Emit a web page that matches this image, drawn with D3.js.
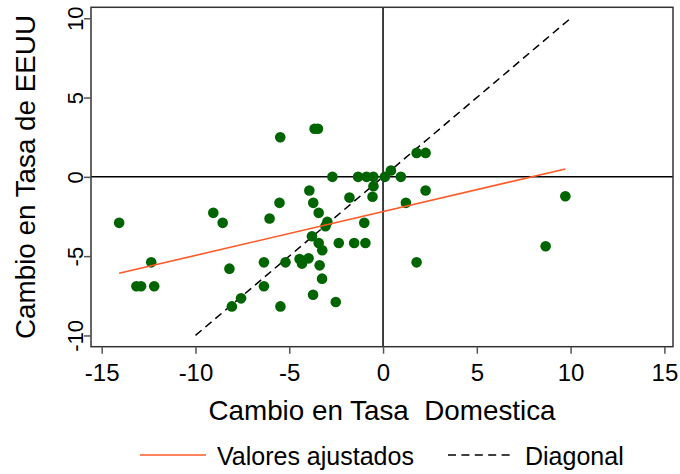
<!DOCTYPE html>
<html>
<head>
<meta charset="utf-8">
<script src="https://cdn.jsdelivr.net/npm/d3@7"></script>
<style>
  body { margin: 0; background: #fff; }
  #chartContainer { width: 680px; height: 474px; }
</style>
</head>
<body>
<div id="chartContainer"></div>
<script>
// Data
const domesticChange = [
  -14.07, -9.05, -8.55, -6.05, -5.52, -5.48, -12.36, -13.15, -12.9, -12.2,
  -8.19, -6.35, -5.2, -6.35, -7.57, -8.06, -5.47, -3.65, -3.47, -2.7,
  -1.33, -0.88, -0.52, 0.1, 0.42, 0.95, 1.79, 2.27, -0.51, -3.93,
  2.27, -1.79, -0.56, -3.72, 1.22, -3.43, -2.97, -3.07, -1.0, -3.79,
  -3.43, -2.36, -1.54, -0.94, -3.24, -4.45, -3.97, -4.32, -3.38, -3.25,
  -3.73, -2.52, 9.72, 8.67, 1.79
];
const usChange = [
  -2.9, -2.27, -2.9, -2.63, -1.64, 2.5, -5.39, -6.9, -6.9, -6.9,
  -5.79, -5.39, -5.39, -6.9, -7.66, -8.17, -8.17, 3.03, 3.03, 0,
  0, 0, 0, 0, 0.4, 0, 1.51, 1.51, -0.59, -0.86,
  -0.86, -1.31, -1.26, -1.64, -1.64, -2.27, -2.84, -3.12, -2.9, -3.75,
  -4.17, -4.17, -4.17, -4.17, -4.63, -5.18, -5.14, -5.47, -5.58, -6.42,
  -7.43, -7.89, -1.22, -4.38, -5.39
];

// Fitted values (end points) and the 45 degree diagonal
const fitX = [-14.07, 9.72];
const fitY = [-6.08, 0.5];
const diagX = [-10, 10];
const diagY = [-10, 10];

const xTicks = [-15, -10, -5, 0, 5, 10, 15];
const yTicks = [-10, -5, 0, 5, 10];

const legendLabels = ["Valores ajustados", "Diagonal"];

const width = 680;
const height = 474;
const marginTop = 7.3;
const marginRight = 7;
const marginBottom = 127.3;
const marginLeft = 91;

const font = "'Liberation Sans', Arial, sans-serif";
const green = "#006400";
const orange = "#ff5a26";

const points = domesticChange.map((d, i) => ({x: d, y: usChange[i]}));

const x = d3.scaleLinear([-15.57, 15.46], [marginLeft, width - marginRight]);
const y = d3.scaleLinear([-10.71, 10.69], [height - marginBottom, marginTop]);

const svg = d3.create("svg")
  .attr("width", width)
  .attr("height", height)
  .attr("viewBox", [0, 0, width, height]);

svg.append("rect")
  .attr("width", width)
  .attr("height", height)
  .attr("fill", "#fff");

// Reference lines at zero
svg.append("line")
  .attr("x1", x(0)).attr("x2", x(0))
  .attr("y1", marginTop).attr("y2", height - marginBottom)
  .attr("stroke", "#000")
  .attr("stroke-width", 1.5);

svg.append("line")
  .attr("x1", marginLeft).attr("x2", width - marginRight)
  .attr("y1", y(0)).attr("y2", y(0))
  .attr("stroke", "#000")
  .attr("stroke-width", 1.5);

const line = d3.line()
  .x(d => x(d[0]))
  .y(d => y(d[1]));

// Diagonal
svg.append("path")
  .attr("fill", "none")
  .attr("stroke", "#000")
  .attr("stroke-width", 1.5)
  .attr("stroke-dasharray", "8,5")
  .attr("d", line(diagX.map((d, i) => [d, diagY[i]])));

// Points
svg.append("g")
  .selectAll("circle")
  .data(points)
  .join("circle")
  .attr("cx", d => x(d.x))
  .attr("cy", d => y(d.y))
  .attr("r", 5.3)
  .attr("fill", green);

// Fitted values
svg.append("path")
  .attr("fill", "none")
  .attr("stroke", orange)
  .attr("stroke-width", 1.6)
  .attr("d", line(fitX.map((d, i) => [d, fitY[i]])));

// Plot frame
svg.append("rect")
  .attr("x", marginLeft)
  .attr("y", marginTop)
  .attr("width", width - marginRight - marginLeft)
  .attr("height", height - marginBottom - marginTop)
  .attr("fill", "none")
  .attr("stroke", "#333")
  .attr("stroke-width", 1.5);

// x axis
svg.append("g")
  .attr("transform", `translate(0,${height - marginBottom})`)
  .call(d3.axisBottom(x).tickValues(xTicks).tickSize(7).tickPadding(10).tickFormat(d3.format("d")))
  .call(g => g.select(".domain").remove())
  .call(g => g.selectAll(".tick line").attr("stroke", "#555").attr("stroke-width", 1.5))
  .call(g => g.selectAll(".tick text")
    .attr("fill", "#000")
    .attr("font-family", font)
    .attr("font-size", 24)
    .text(d => d < 0 ? "-" + Math.abs(d) : d));

// y axis, labels turned
svg.append("g")
  .attr("transform", `translate(${marginLeft},0)`)
  .call(d3.axisLeft(y).tickValues(yTicks).tickSize(7).tickFormat(""))
  .call(g => g.select(".domain").remove())
  .call(g => g.selectAll(".tick line").attr("stroke", "#555").attr("stroke-width", 1.5))
  .call(g => g.selectAll(".tick").append("text")
    .attr("transform", "translate(-8,0) rotate(-90)")
    .attr("text-anchor", "middle")
    .attr("fill", "#000")
    .attr("font-family", font)
    .attr("font-size", 22)
    .text(d => d < 0 ? "-" + Math.abs(d) : d));

// Axis titles
svg.append("text")
  .attr("x", (marginLeft + width - marginRight) / 2)
  .attr("y", 420)
  .attr("text-anchor", "middle")
  .attr("font-family", font)
  .attr("font-size", 27.8)
  .attr("xml:space", "preserve")
  .style("white-space", "pre")
  .text("Cambio en Tasa  Domestica");

svg.append("text")
  .attr("transform", `translate(35,${(marginTop + height - marginBottom) / 2}) rotate(-90)`)
  .attr("text-anchor", "middle")
  .attr("font-family", font)
  .attr("font-size", 27.8)
  .text("Cambio en Tasa de EEUU");

// Legend
const legend = svg.append("g");

legend.append("line")
  .attr("x1", 140).attr("x2", 206)
  .attr("y1", 455).attr("y2", 455)
  .attr("stroke", orange)
  .attr("stroke-width", 1.6);

legend.append("text")
  .attr("x", 217).attr("y", 465)
  .attr("font-family", font)
  .attr("font-size", 25)
  .text(legendLabels[0]);

legend.append("line")
  .attr("x1", 448).attr("x2", 514)
  .attr("y1", 455).attr("y2", 455)
  .attr("stroke", "#000")
  .attr("stroke-width", 1.5)
  .attr("stroke-dasharray", "8,5.4");

legend.append("text")
  .attr("x", 525).attr("y", 465)
  .attr("font-family", font)
  .attr("font-size", 25)
  .text(legendLabels[1]);

document.getElementById("chartContainer").append(svg.node());
</script>
</body>
</html>
